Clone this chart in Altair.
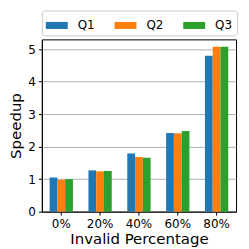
import altair as alt
import pandas as pd

categories = ["0%", "20%", "40%", "60%", "80%"]
series = ["Q1", "Q2", "Q3"]
q1 = [1.05, 1.27, 1.79, 2.42, 4.80]
q2 = [0.98, 1.24, 1.68, 2.41, 5.07]
q3 = [1.00, 1.25, 1.66, 2.48, 5.07]
colors = ["#1f77b4", "#ff7f0e", "#2ca02c"]

rows = []
for s, vals in zip(series, [q1, q2, q3]):
    for c, v in zip(categories, vals):
        rows.append({"cat": c, "series": s, "value": v})
df = pd.DataFrame(rows)

FONT = "DejaVu Sans"

chart = alt.Chart(df).mark_bar().encode(
    x=alt.X("cat:N", sort=categories, title="Invalid Percentage",
            scale=alt.Scale(paddingInner=0.4, paddingOuter=0.2),
            axis=alt.Axis(labelAngle=0, labelFontSize=12, titleFontSize=15,
                          ticks=True, tickSize=3.5, labelPadding=3, titlePadding=2)),
    xOffset=alt.XOffset("series:N", sort=series,
                        scale=alt.Scale(paddingInner=0, paddingOuter=0)),
    y=alt.Y("value:Q", title="Speedup",
            scale=alt.Scale(domain=[0, 5.3], nice=False),
            axis=alt.Axis(values=[0, 1, 2, 3, 4, 5], labelFontSize=12, titleFontSize=15,
                          tickSize=3.5, labelPadding=3, titlePadding=4, grid=True,
                          gridColor="#b0b0b0", gridWidth=1)),
    color=alt.Color("series:N", sort=series,
                    scale=alt.Scale(domain=series, range=colors),
                    legend=alt.Legend(title=None, orient="none", legendX=0, legendY=-29,
                                      direction="horizontal", columns=3,
                                      symbolType="M-1,-0.32H1V0.32H-1Z", symbolSize=484,
                                      symbolStrokeWidth=0, labelFontSize=12,
                                      labelOffset=10, columnPadding=19,
                                      padding=4, strokeColor="#cccccc", cornerRadius=3,
                                      fillColor="white", symbolOpacity=1)),
).properties(
    width=195, height=173,
    autosize=alt.AutoSizeParams(type="none"),
    padding={"left": 34, "top": 31, "right": 5, "bottom": 40},
).configure_axis(
    labelFont=FONT, titleFont=FONT, domainColor="black", tickColor="black",
    labelColor="black", titleColor="black", titleFontWeight="normal",
).configure_legend(
    labelFont=FONT, labelColor="black",
).configure_view(
    stroke="black", strokeWidth=1,
)

chart.save("out.html", embed_options={"renderer": "svg", "actions": False})
